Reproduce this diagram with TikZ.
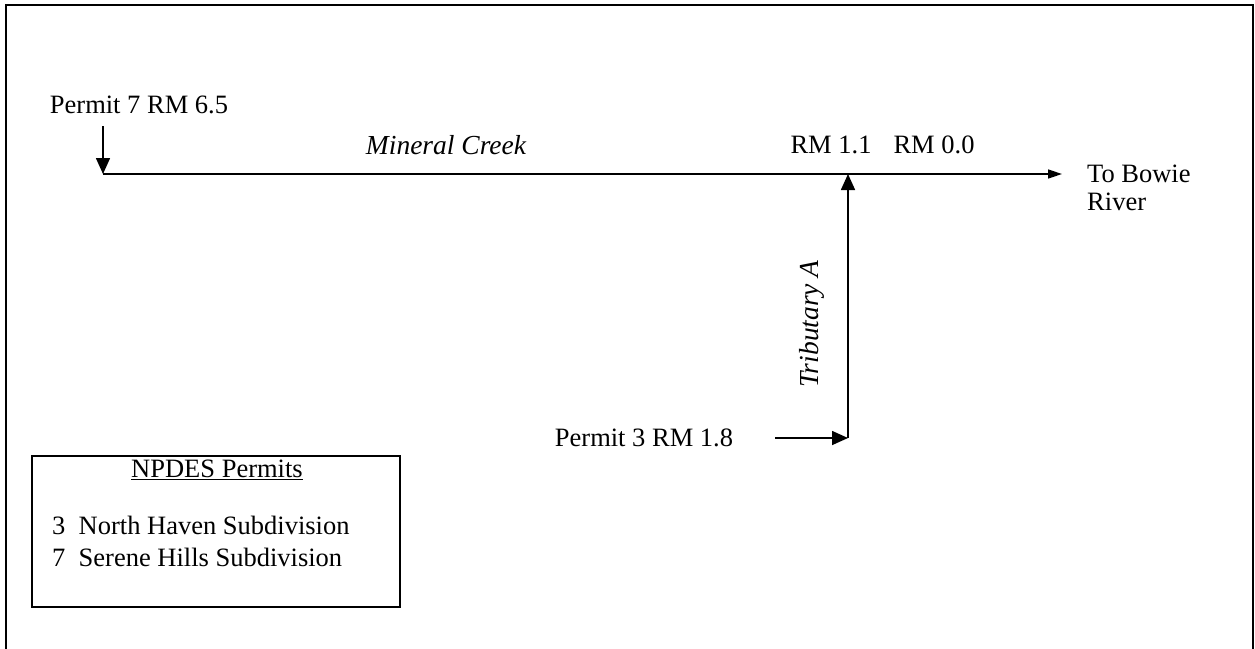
\documentclass[tikz,border=0pt]{standalone}
\usepackage{fontspec}
\setmainfont{Liberation Serif}
\usetikzlibrary{arrows.meta}
\begin{document}
\begin{tikzpicture}[x=1pt,y=-1pt,
  lbl/.style={inner sep=0pt,font=\fontsize{26.5}{32}\selectfont},
  ilbl/.style={lbl,font=\fontsize{27.5}{32}\selectfont\itshape},
  flow/.style={line width=1.6pt,-{Triangle[length=16pt,width=14pt]}},
  frame/.style={line width=1.8pt}]
\useasboundingbox (0,0) rectangle (1255,648);
% outer frame (bottom edge lies below the picture)
\draw[frame] (6,700) -- (6,5) -- (1253,5) -- (1253,700);
% labels
\node[lbl] (p7) at (139,105) {Permit 7 RM 6.5};
\node[ilbl] (mc) at (446,145) {Mineral Creek};
\node[lbl] (rm11) at (831,145) {RM 1.1};
\node[lbl] (rm00) at (934,145) {RM 0.0};
\node[lbl,anchor=north west,align=left,font=\fontsize{26.5}{28}\selectfont] (bowie) at (1087,165) {To Bowie\\River};
\node[ilbl,rotate=90] (trib) at (812,324) {Tributary A};
\node[lbl] (p3) at (644,438) {Permit 3 RM 1.8};
% coordinates
\coordinate (p7top) at (103,126);
\coordinate (src) at (103,174);
\coordinate (mouth) at (1062,174);
\coordinate (conf) at (848,174);
\coordinate (tribsrc) at (848,438);
\coordinate (p3start) at (775,438);
% streams and discharges
\draw[flow] (p7top) -- (src);
\draw[line width=1.6pt,-{Triangle[length=14pt,width=9pt]}] (src) -- (mouth);
\draw[flow] (tribsrc) -- (conf);
\draw[flow] (p3start) -- (tribsrc);
% legend
\node[draw,line width=1.8pt,minimum width=368pt,minimum height=151pt,inner sep=0pt] (legend) at (216,531.5) {};
\node[lbl] (lt) at (217,470) {\underline{NPDES Permits}};
\node[lbl,anchor=west] (l3) at (52,525) {3\ \ North Haven Subdivision};
\node[lbl,anchor=west] (l7) at (52,557) {7\ \ Serene Hills Subdivision};
\end{tikzpicture}
\end{document}
